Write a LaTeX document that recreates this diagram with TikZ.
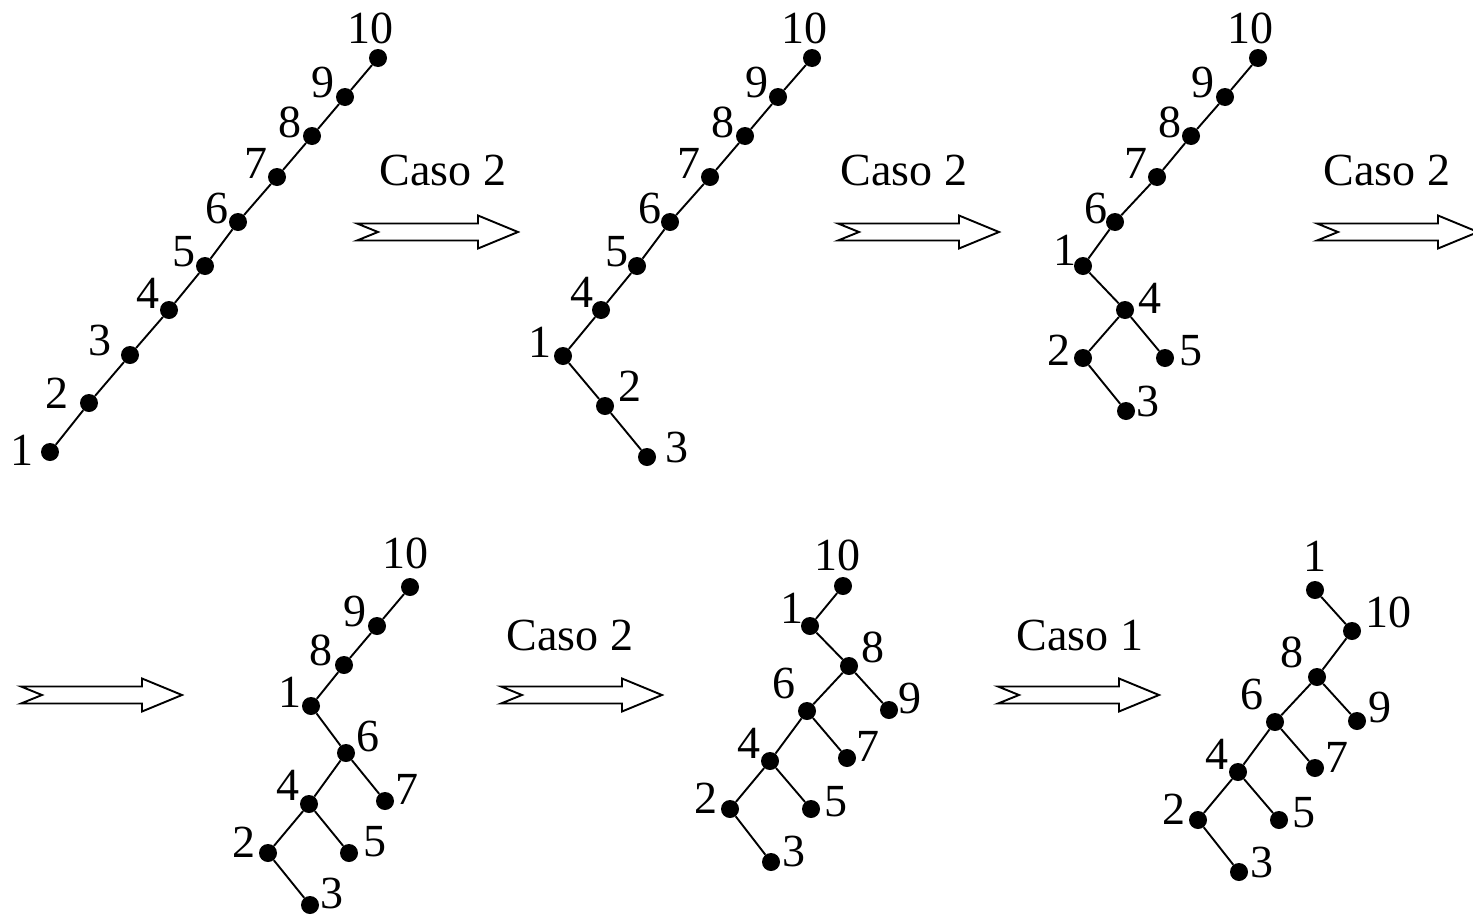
\documentclass[tikz,border=0pt]{standalone}
\usepackage{fontspec}
\setmainfont{Liberation Serif}
\tikzset{
  dot/.style={circle,fill=black,draw=none,minimum size=18pt,inner sep=0pt},
  lab/.style={inner sep=0pt,font=\fontsize{46}{50}\selectfont},
  casetext/.style={inner sep=0pt,font=\fontsize{46}{50}\selectfont},
  edge/.style={line width=1.9pt},
  pics/bigarrow/.style={code={
    \draw[line width=1.9pt,line join=miter,fill=white]
      (0,-8.5) -- (121,-8.5) -- (121,-16.5) -- (161,0) -- (121,16.5) -- (121,8.5)
      -- (0,8.5) -- (21,0) -- cycle;}}
}
\newcommand\vx[4]{\node[dot] (#1) at (#2) {}; \node[lab] (l#1) at (#3) {#4};}
\begin{document}
\begin{tikzpicture}[x=1pt,y=-1pt]
\useasboundingbox (0,0) rectangle (1473,916);
% ---- Tree A
\vx{a1}{50,452}{22,450}{1}
\vx{a2}{89,403}{57,393}{2}
\vx{a3}{130,355}{100,340}{3}
\vx{a4}{169,310}{148,293}{4}
\vx{a5}{205,266}{184,252}{5}
\vx{a6}{238,222}{217,208}{6}
\vx{a7}{277,177}{256,163}{7}
\vx{a8}{312,136}{290,122}{8}
\vx{a9}{345,97}{323,82}{9}
\vx{a10}{378,58}{370,28}{10}
\draw[edge] (a1)--(a2)--(a3)--(a4)--(a5)--(a6)--(a7)--(a8)--(a9)--(a10);
% ---- Tree B
\vx{b1}{563,356}{540,342}{1}
\vx{b2}{605,406}{630,386}{2}
\vx{b3}{647,457}{677,447}{3}
\vx{b4}{601,310}{582,292}{4}
\vx{b5}{637,266}{617,252}{5}
\vx{b6}{670,222}{650,208}{6}
\vx{b7}{710,177}{689,163}{7}
\vx{b8}{745,136}{723,122}{8}
\vx{b9}{778,97}{757,82}{9}
\vx{b10}{812,58}{804,28}{10}
\draw[edge] (b3)--(b2)--(b1)--(b4)--(b5)--(b6)--(b7)--(b8)--(b9)--(b10);
% ---- Tree C
\vx{c1}{1083,266}{1065,250}{1}
\vx{c4}{1125,310}{1150,298}{4}
\vx{c2}{1083,358}{1059,350}{2}
\vx{c5}{1165,358}{1191,351}{5}
\vx{c3}{1126,411}{1148,401}{3}
\vx{c6}{1115,222}{1096,208}{6}
\vx{c7}{1157,177}{1136,163}{7}
\vx{c8}{1191,136}{1170,122}{8}
\vx{c9}{1225,97}{1203,82}{9}
\vx{c10}{1258,58}{1250,28}{10}
\draw[edge] (c3)--(c2)--(c4)--(c5);
\draw[edge] (c4)--(c1)--(c6)--(c7)--(c8)--(c9)--(c10);
% ---- Tree D
\vx{d10}{410,587}{405,553}{10}
\vx{d9}{377,626}{355,611}{9}
\vx{d8}{344,665}{321,650}{8}
\vx{d1}{311,706}{290,692}{1}
\vx{d6}{346,753}{368,736}{6}
\vx{d4}{309,804}{288,785}{4}
\vx{d7}{385,801}{407,789}{7}
\vx{d2}{268,853}{244,842}{2}
\vx{d5}{349,853}{375,842}{5}
\vx{d3}{310,905}{332,893}{3}
\draw[edge] (d10)--(d9)--(d8)--(d1)--(d6)--(d4)--(d2)--(d3);
\draw[edge] (d6)--(d7);
\draw[edge] (d4)--(d5);
% ---- Tree E
\vx{e10}{843,586}{837,555}{10}
\vx{e1}{810,626}{792,608}{1}
\vx{e8}{849,666}{873,647}{8}
\vx{e9}{889,710}{910,698}{9}
\vx{e6}{807,711}{784,683}{6}
\vx{e7}{847,758}{868,746}{7}
\vx{e4}{770,761}{749,743}{4}
\vx{e5}{811,809}{836,802}{5}
\vx{e2}{730,809}{706,798}{2}
\vx{e3}{771,862}{794,851}{3}
\draw[edge] (e10)--(e1)--(e8)--(e6)--(e4)--(e2)--(e3);
\draw[edge] (e8)--(e9);
\draw[edge] (e6)--(e7);
\draw[edge] (e4)--(e5);
% ---- Tree F
\vx{f1}{1315,590}{1315,556}{1}
\vx{f10}{1352,631}{1388,612}{10}
\vx{f8}{1317,677}{1292,652}{8}
\vx{f9}{1357,721}{1380,707}{9}
\vx{f6}{1275,722}{1252,694}{6}
\vx{f7}{1315,768}{1337,757}{7}
\vx{f4}{1238,772}{1217,754}{4}
\vx{f5}{1279,820}{1304,813}{5}
\vx{f2}{1198,820}{1174,809}{2}
\vx{f3}{1239,872}{1262,862}{3}
\draw[edge] (f1)--(f10)--(f8)--(f6)--(f4)--(f2)--(f3);
\draw[edge] (f8)--(f9);
\draw[edge] (f6)--(f7);
\draw[edge] (f4)--(f5);
% ---- Arrows and captions
\pic at (357,232) {bigarrow};
\node[casetext] (t1) at (443,170) {Caso 2};
\pic at (838,232) {bigarrow};
\node[casetext] (t2) at (904,170) {Caso 2};
\pic at (1317,232) {bigarrow};
\node[casetext] (t3) at (1387,170) {Caso 2};
\pic at (21,695) {bigarrow};
\pic at (501,695) {bigarrow};
\node[casetext] (t4) at (570,635) {Caso 2};
\pic at (998,695) {bigarrow};
\node[casetext] (t5) at (1080,635) {Caso 1};
\end{tikzpicture}
\end{document}
